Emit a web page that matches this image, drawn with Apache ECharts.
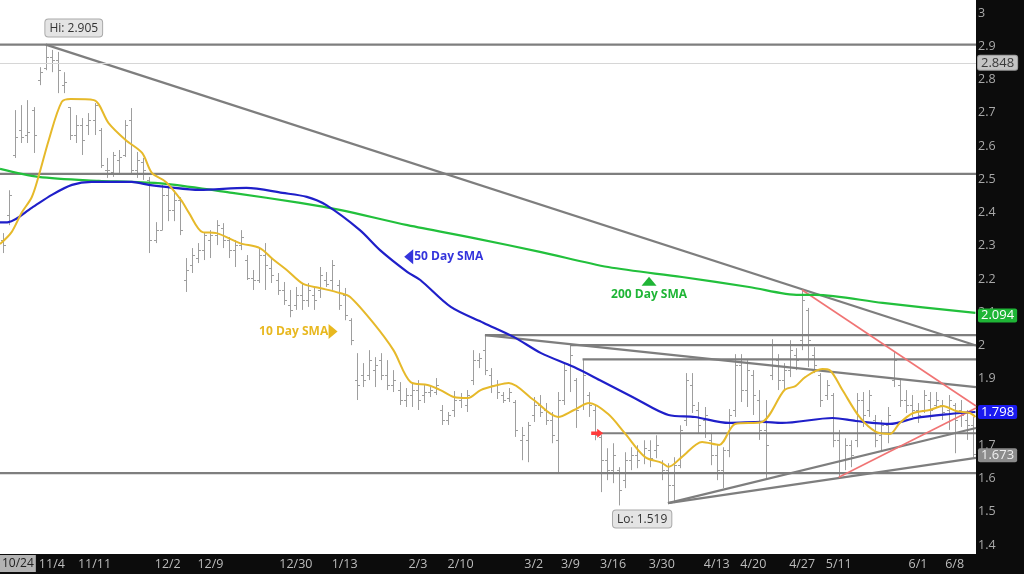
<!DOCTYPE html>
<html><head><meta charset="utf-8">
<script src="https://cdn.jsdelivr.net/npm/echarts/dist/echarts.min.js"></script>
<style>html,body{margin:0;padding:0;background:#0c0c0c}#c{width:1024px;height:574px}</style>
</head><body><div id="c"></div>
<script>
// ---- daily bars (price) ----
const opens=[2.317,2.392,2.573,2.648,2.633,2.708,2.798,2.834,2.868,2.859,
2.783,2.717,2.633,2.663,2.663,2.678,2.648,2.528,2.522,2.558,
2.573,2.678,2.528,2.552,2.498,2.317,2.347,2.452,2.407,2.437,
2.197,2.242,2.263,2.287,2.317,2.332,2.353,2.317,2.287,2.302,
2.257,2.203,2.197,2.272,2.233,2.197,2.167,2.122,2.122,2.152,
2.137,2.152,2.167,2.197,2.197,2.182,2.152,2.076,1.896,1.911,
1.911,1.926,1.956,1.911,1.881,1.866,1.836,1.851,1.866,1.851,
1.860,1.860,1.806,1.776,1.806,1.836,1.821,1.896,1.956,1.986,
1.911,1.881,1.851,1.842,1.830,1.715,1.715,1.791,1.821,1.806,
1.776,1.715,1.836,1.941,1.896,1.821,1.851,1.806,1.725,1.655,
1.625,1.625,1.595,1.655,1.670,1.670,1.685,1.685,1.649,1.625,
1.580,1.640,1.776,1.881,1.806,1.776,1.716,1.670,1.625,1.685,
1.806,1.941,1.866,1.911,1.836,1.746,1.911,1.956,1.896,1.926,
1.971,2.016,2.107,1.971,1.911,1.851,1.851,1.715,1.655,1.700,
1.715,1.836,1.806,1.776,1.731,1.761,1.896,1.881,1.836,1.821,
1.806,1.806,1.836,1.821,1.821,1.806,1.821,1.806,1.776,1.761];
const highs=[2.338,2.467,2.708,2.723,2.738,2.717,2.837,2.905,2.889,2.883,
2.822,2.717,2.693,2.684,2.699,2.729,2.654,2.564,2.582,2.588,
2.678,2.714,2.582,2.564,2.507,2.371,2.483,2.477,2.467,2.446,
2.263,2.293,2.308,2.341,2.347,2.377,2.368,2.326,2.317,2.347,
2.272,2.227,2.296,2.308,2.263,2.218,2.191,2.167,2.176,2.188,
2.188,2.173,2.236,2.221,2.257,2.197,2.173,2.082,1.977,1.947,
1.986,1.965,1.977,1.956,1.926,1.890,1.872,1.887,1.896,1.881,
1.875,1.902,1.821,1.800,1.863,1.857,1.866,1.986,1.977,2.031,
1.932,1.896,1.860,1.872,1.836,1.755,1.770,1.845,1.851,1.827,
1.800,1.860,1.947,2.001,1.902,1.956,1.860,1.821,1.731,1.691,
1.706,1.634,1.679,1.694,1.700,1.715,1.715,1.730,1.655,1.646,
1.664,1.760,1.917,1.917,1.830,1.815,1.737,1.703,1.694,1.809,
1.974,1.974,1.956,1.926,1.866,1.836,2.019,1.974,1.947,2.016,
1.992,2.167,2.113,1.995,1.917,1.896,1.857,1.746,1.721,1.715,
1.857,1.860,1.866,1.791,1.776,1.815,1.980,1.902,1.866,1.851,
1.827,1.866,1.860,1.860,1.836,1.851,1.827,1.836,1.806,1.785];
const lows=[2.278,2.362,2.564,2.609,2.609,2.579,2.783,2.828,2.822,2.759,
2.759,2.618,2.609,2.573,2.633,2.633,2.534,2.504,2.507,2.519,
2.567,2.519,2.504,2.498,2.278,2.308,2.347,2.374,2.374,2.332,
2.161,2.218,2.248,2.257,2.263,2.302,2.293,2.263,2.236,2.287,
2.197,2.167,2.188,2.167,2.188,2.152,2.122,2.085,2.107,2.107,
2.116,2.107,2.143,2.176,2.167,2.107,2.076,2.001,1.836,1.875,
1.896,1.875,1.896,1.866,1.860,1.821,1.815,1.815,1.806,1.827,
1.845,1.851,1.761,1.761,1.785,1.812,1.800,1.881,1.932,1.911,
1.857,1.839,1.827,1.830,1.725,1.655,1.649,1.770,1.785,1.761,
1.706,1.619,1.821,1.860,1.752,1.806,1.785,1.715,1.559,1.595,
1.586,1.519,1.571,1.625,1.631,1.643,1.634,1.661,1.595,1.526,
1.526,1.631,1.758,1.797,1.737,1.722,1.640,1.595,1.571,1.664,
1.785,1.830,1.815,1.791,1.716,1.599,1.896,1.866,1.866,1.905,
1.926,1.986,1.935,1.917,1.815,1.836,1.694,1.604,1.625,1.634,
1.694,1.755,1.785,1.694,1.685,1.706,1.875,1.815,1.797,1.785,
1.767,1.797,1.776,1.812,1.776,1.746,1.676,1.755,1.716,1.664];
const closes=[2.302,2.452,2.627,2.627,2.642,2.633,2.822,2.868,2.859,2.828,
2.792,2.633,2.663,2.618,2.678,2.723,2.543,2.528,2.573,2.567,
2.663,2.528,2.558,2.528,2.317,2.347,2.452,2.407,2.437,2.347,
2.227,2.272,2.287,2.332,2.332,2.362,2.317,2.287,2.302,2.326,
2.203,2.197,2.272,2.242,2.212,2.167,2.137,2.107,2.152,2.137,
2.167,2.137,2.212,2.185,2.242,2.122,2.091,2.016,1.881,1.896,
1.956,1.941,1.911,1.881,1.896,1.836,1.851,1.866,1.836,1.860,
1.866,1.881,1.776,1.791,1.836,1.842,1.851,1.956,1.962,1.926,
1.881,1.860,1.836,1.860,1.746,1.731,1.761,1.821,1.800,1.776,
1.731,1.836,1.926,1.971,1.806,1.911,1.821,1.731,1.655,1.625,
1.670,1.565,1.655,1.670,1.655,1.691,1.661,1.700,1.625,1.580,
1.640,1.746,1.896,1.821,1.761,1.791,1.670,1.625,1.685,1.791,
1.941,1.866,1.926,1.851,1.746,1.700,2.001,1.896,1.926,1.986,
1.956,2.137,2.016,1.941,1.836,1.881,1.715,1.655,1.700,1.670,
1.836,1.791,1.851,1.715,1.761,1.791,1.956,1.836,1.821,1.806,
1.791,1.851,1.806,1.836,1.800,1.836,1.776,1.791,1.761,1.673];

// ---- date tick labels: [bar index, text] ----
const startLabel='10/24';
const tickLabels=[[8,'11/4'],[15,'11/11'],[27,'12/2'],[34,'12/9'],[48,'12/30'],[56,'1/13'],
[68,'2/3'],[75,'2/10'],[87,'3/2'],[93,'3/9'],[100,'3/16'],[108,'3/30'],[117,'4/13'],[123,'4/20'],
[131,'4/27'],[137,'5/11'],[150,'6/1'],[156,'6/8']];

// ---- moving averages: [bar index, value] ----
const sma10=[[-0.5,2.305],[1.4,2.341],[3.0,2.398],[4.7,2.446],[5.8,2.507],[7.5,2.618],[9.6,2.732],[11.1,2.741],[14.9,2.738],[17.3,2.669],[20.1,2.618],[22.8,2.579],[24.4,2.519],[26.7,2.492],[29.2,2.437],[30.5,2.398],[32.7,2.341],[35.0,2.338],[38.8,2.308],[42.1,2.293],[44.2,2.260],[46.5,2.227],[49.2,2.185],[51.9,2.173],[55.2,2.158],[56.9,2.146],[60.7,2.068],[64.0,1.986],[66.8,1.890],[69.6,1.881],[71.7,1.866],[73.9,1.845],[76.2,1.842],[78.3,1.866],[81.1,1.881],[82.9,1.887],[87.0,1.836],[91.0,1.785],[93.6,1.806],[96.1,1.827],[99.2,1.794],[101.9,1.737],[105.2,1.665],[108.0,1.647],[109.1,1.635],[111.3,1.665],[114.6,1.710],[117.4,1.701],[120.0,1.764],[124.4,1.770],[128.1,1.866],[129.9,1.878],[131.5,1.905],[134.3,1.929],[135.5,1.926],[137.6,1.866],[140.4,1.785],[143.1,1.740],[145.4,1.734],[147.0,1.767],[149.2,1.797],[151.9,1.806],[154.1,1.818],[156.2,1.803],[158.5,1.797],[159.4,1.785]];
const sma50=[[-0.5,2.370],[0.9,2.371],[4.7,2.414],[8.0,2.453],[11.3,2.483],[14.5,2.492],[21.1,2.492],[23.9,2.483],[26.7,2.477],[32.2,2.468],[39.9,2.474],[45.8,2.459],[49.8,2.447],[53.0,2.422],[58.5,2.347],[61.8,2.287],[66.3,2.221],[68.4,2.197],[73.4,2.116],[78.8,2.068],[83.7,2.026],[88.2,1.977],[93.6,1.935],[98.1,1.893],[103.5,1.842],[109.1,1.791],[113.4,1.785],[119.0,1.767],[124.4,1.770],[127.7,1.767],[136.0,1.782],[139.8,1.773],[145.4,1.764],[149.6,1.782],[155.2,1.794],[159.4,1.800]];
const sma200=[[-0.5,2.531],[5.8,2.507],[15.7,2.495],[21.1,2.492],[26.7,2.486],[37.6,2.459],[48.7,2.429],[55.2,2.408],[66.3,2.362],[77.2,2.323],[88.2,2.281],[99.2,2.236],[111.3,2.206],[122.3,2.176],[130.5,2.152],[133.2,2.152],[144.2,2.128],[159.4,2.098]];

// ---- drawn trend / level lines: [[index,value],[index,value]] ----
const greyLines=[
 [[-0.5,2.905],[159.5,2.905]],
 [[-0.5,2.516],[159.5,2.516]],
 [[-0.5,1.616],[159.5,1.616]],
 [[7,2.905],[159.5,2.0]],
 [[79,2.031],[159.5,2.031]],
 [[79,2.031],[159.5,1.875]],
 [[93,2.001],[159.5,2.001]],
 [[95,1.958],[159.5,1.958]],
 [[98,1.736],[159.5,1.736]],
 [[109,1.526],[159.5,1.752]],
 [[109,1.526],[159.5,1.662]]
];
const redLines=[
 [[131,2.167],[159.5,1.818]],
 [[137,1.604],[159.5,1.812]]
];
// ---- price tags on the right axis ----
const lastClose=1.673, refLevel=2.848, last50=1.798, last200=2.094;
const hiVal=2.905, hiIdx=7, loVal=1.519, loIdx=101;

const N=opens.length;
const cats=opens.map((_,i)=>String(i));
const labelMap={}; tickLabels.forEach(([i,t])=>{labelMap[i]=t;});
const ohlc=opens.map((o,i)=>[i,o,highs[i],lows[i],closes[i]]);
const FONT='"Open Sans", "Noto Sans", sans-serif';
const GREY='#7e7e7e', RED='#f07474', GOLD='#e6b92a', BLUE='#1f1fc9', GREEN='#22c03c';

function tag(val,bg,fg,border){return {show:true,position:'end',distance:2,formatter:val.toFixed(3),backgroundColor:bg,color:fg,borderColor:border||bg,borderWidth:border?1:0,borderRadius:2,padding:[1,3,0,3],fontSize:13,fontFamily:FONT};}
const hidden={width:0,color:'rgba(0,0,0,0)'};

const series=[];
series.push({type:'custom',name:'bars',xAxisIndex:1,data:ohlc,encode:{x:0,y:[1,2,3,4]},silent:true,z:2,
 renderItem:(params,api)=>{
  const i=api.value(0);
  const o=api.coord([i,api.value(1)]),h=api.coord([i,api.value(2)]),l=api.coord([i,api.value(3)]),c=api.coord([i,api.value(4)]);
  const x=Math.round(h[0])+0.5, st={stroke:'#9e9e9e',lineWidth:1};
  return {type:'group',children:[
   {type:'line',shape:{x1:x,y1:h[1],x2:x,y2:l[1]},style:st},
   {type:'line',shape:{x1:x-2.5,y1:Math.round(o[1])+0.5,x2:x,y2:Math.round(o[1])+0.5},style:st},
   {type:'line',shape:{x1:x,y1:Math.round(c[1])+0.5,x2:x+2.5,y2:Math.round(c[1])+0.5},style:st}]};
 }});
greyLines.forEach((seg,k)=>{
 const s={type:'line',xAxisIndex:1,data:seg,symbol:'none',silent:true,z:3,lineStyle:{color:GREY,width:2.2}};
 if(k===0){
  s.markLine={symbol:['none','none'],silent:true,data:[
   {yAxis:refLevel,lineStyle:{color:'#d6d6d6',width:1,type:'solid'},label:tag(refLevel,'#c4c4c4','#3a3a3a','#9a9a9a')},
   {yAxis:lastClose,lineStyle:hidden,label:tag(lastClose,'#8c8c8c','#eeeeee')}]};
  s.markPoint={silent:true,data:[
   {coord:[hiIdx,hiVal],symbol:'circle',symbolSize:0,label:{show:true,position:'top',distance:8,offset:[28,0],formatter:'Hi: '+hiVal.toFixed(3),backgroundColor:'#e4e4e4',borderColor:'#aaaaaa',borderWidth:1,borderRadius:3,padding:[3,4,2,4],color:'#333',fontSize:12,fontFamily:FONT}},
   {coord:[loIdx,loVal],symbol:'circle',symbolSize:0,label:{show:true,position:'bottom',distance:5,offset:[23,0],formatter:'Lo: '+loVal.toFixed(3),backgroundColor:'#e4e4e4',borderColor:'#aaaaaa',borderWidth:1,borderRadius:3,padding:[3,4,2,4],color:'#333',fontSize:12,fontFamily:FONT}},
   {coord:[97.4,1.736],symbol:'path://M0,3 L6,3 L6,0 L12,5 L6,10 L6,7 L0,7 Z',symbolSize:[12,9],itemStyle:{color:'#ff3b3b'},label:{show:false}}
  ]};
 }
 series.push(s);
});
redLines.forEach(seg=>series.push({type:'line',xAxisIndex:1,data:seg,symbol:'none',silent:true,z:3,lineStyle:{color:RED,width:1.6}}));
const txt=(t,color,pos)=>({show:true,position:pos,distance:0,formatter:t,color,fontSize:12,fontWeight:'bold',fontFamily:FONT});
series.push({type:'line',name:'200 Day SMA',xAxisIndex:1,data:sma200,symbol:'none',smooth:0.3,silent:true,z:4,lineStyle:{color:GREEN,width:2.2},
 markLine:{symbol:['none','none'],silent:true,data:[{yAxis:last200,lineStyle:hidden,label:tag(last200,'#1fb536','#ffffff')}]},
 markPoint:{silent:true,data:[
  {coord:[105.9,2.193],symbol:'triangle',symbolSize:[15,9],itemStyle:{color:'#1fb536'},label:{show:false}},
  {coord:[105.9,2.152],symbol:'circle',symbolSize:0,label:txt('200 Day SMA','#1fb536','inside')}]}});
series.push({type:'line',name:'50 Day SMA',xAxisIndex:1,data:sma50,symbol:'none',smooth:0.3,silent:true,z:4,lineStyle:{color:BLUE,width:2.2},
 markLine:{symbol:['none','none'],silent:true,data:[{yAxis:last50,lineStyle:hidden,label:tag(last50,'#1a1af0','#ffffff')}]},
 markPoint:{silent:true,data:[
  {coord:[66.5,2.267],symbol:'triangle',symbolSize:[15,9],symbolRotate:90,itemStyle:{color:'#3434dc'},label:{show:false}},
  {coord:[67.4,2.267],symbol:'circle',symbolSize:0,label:txt('50 Day SMA','#3434dc','right')}]}});
series.push({type:'line',name:'10 Day SMA',xAxisIndex:1,data:sma10,symbol:'none',smooth:0.3,silent:true,z:4,lineStyle:{color:GOLD,width:2},
 markPoint:{silent:true,data:[
  {coord:[54.1,2.042],symbol:'triangle',symbolSize:[15,9],symbolRotate:-90,itemStyle:{color:'#e8b820'},label:{show:false}},
  {coord:[53.3,2.042],symbol:'circle',symbolSize:0,label:txt('10 Day SMA','#e8b820','left')}]}});

const chart=echarts.init(document.getElementById('c'),null,{renderer:'canvas'});
chart.setOption({
 backgroundColor:'#0c0c0c',animation:false,
 grid:{left:0,right:48,top:0,bottom:20,show:true,backgroundColor:'#ffffff',borderWidth:0},
 graphic:[{type:'text',left:0,top:555,z:10,silent:true,
  style:{text:startLabel,fill:'#222',fontSize:12,fontFamily:FONT,backgroundColor:'#b3b3b3',padding:[3,2,2,2]}}],
 xAxis:[
  {type:'category',data:cats,boundaryGap:true,axisLine:{show:false},axisTick:{show:false},splitLine:{show:false},
   axisLabel:{interval:(i)=>labelMap[i]!==undefined,formatter:(v,i)=>(labelMap[i]||''),
    color:'#bcbcbc',fontSize:12.5,fontFamily:FONT,margin:4}},
  {type:'value',min:-0.5,max:N-0.5,show:false}
 ],
 yAxis:{type:'value',position:'right',min:1.3729,max:3.0391,splitNumber:16,axisLine:{show:false},axisTick:{show:false},splitLine:{show:false},
  axisLabel:{color:'#a9a9a9',fontSize:12.5,fontFamily:FONT,margin:2,formatter:v=>{const r=Math.round(v*10)/10;return Math.abs(r-v)<1e-6?String(r):'';}}},
 series
});
</script></body></html>
